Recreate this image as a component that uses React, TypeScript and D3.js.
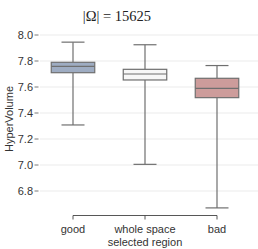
import React from 'react';
import * as d3 from 'd3';

// categories and box stats
const categories = ['good', 'whole space', 'bad'];
const whiskerHigh = [7.945, 7.925, 7.765];
const q3 = [7.79, 7.736, 7.667];
const medians = [7.758, 7.70, 7.59];
const q1 = [7.71, 7.654, 7.518];
const whiskerLow = [7.308, 7.005, 6.67];
const boxColors = ['#9eacc2', '#f7f7f7', '#cd9c9b'];
const yTicks = [6.8, 7.0, 7.2, 7.4, 7.6, 7.8, 8.0];

const width = 258;
const height = 249;

const App = () => {
  const x = d3.scalePoint().domain(categories).range([73, 217]);
  const y = d3.scaleLinear().domain([6.8, 8.0]).range([191, 35]);
  const boxW = 43.5;
  const capW = 23;
  const edge = '#6f6f6f';
  const font = 'Liberation Sans, Arial, sans-serif';

  return (
    <svg width={width} height={height} style={{ position: 'absolute', left: 0, top: 0 }}>
      <text x={117} y={21} textAnchor="middle" fontFamily="Liberation Serif, Times New Roman, serif" fontSize={14.5} fill="#222">
        |Ω| = 15625
      </text>

      {/* grid + y ticks */}
      {yTicks.map(t => (
        <g key={t}>
          <line x1={40} x2={258} y1={y(t)} y2={y(t)} stroke="#ebebeb" strokeWidth={1} />
          <line x1={34.5} x2={38.5} y1={y(t)} y2={y(t)} stroke="#555" strokeWidth={0.8} />
          <text x={33} y={y(t)} dy="0.35em" textAnchor="end" fontFamily={font} fontSize={11} fill="#333">
            {d3.format('.1f')(t)}
          </text>
        </g>
      ))}

      <text transform={`translate(13,${119}) rotate(-90)`} textAnchor="middle" fontFamily={font} fontSize={11} fill="#333">
        HyperVolume
      </text>

      {/* boxes */}
      {categories.map((c, i) => {
        const cx = x(c) as number;
        return (
          <g key={c}>
            <line x1={cx} x2={cx} y1={y(whiskerHigh[i])} y2={y(q3[i])} stroke={edge} strokeWidth={1.2} />
            <line x1={cx} x2={cx} y1={y(q1[i])} y2={y(whiskerLow[i])} stroke={edge} strokeWidth={1.2} />
            <line x1={cx - capW / 2} x2={cx + capW / 2} y1={y(whiskerHigh[i])} y2={y(whiskerHigh[i])} stroke={edge} strokeWidth={1.2} />
            <line x1={cx - capW / 2} x2={cx + capW / 2} y1={y(whiskerLow[i])} y2={y(whiskerLow[i])} stroke={edge} strokeWidth={1.2} />
            <rect x={cx - boxW / 2} y={y(q3[i])} width={boxW} height={y(q1[i]) - y(q3[i])} fill={boxColors[i]} stroke={edge} strokeWidth={1.2} />
            <line x1={cx - boxW / 2} x2={cx + boxW / 2} y1={y(medians[i])} y2={y(medians[i])} stroke={edge} strokeWidth={1.2} />
          </g>
        );
      })}

      {/* bottom axis, offset and trimmed */}
      <line x1={73} x2={217} y1={215.5} y2={215.5} stroke="#444" strokeWidth={0.9} />
      {categories.map(c => (
        <line key={c} x1={x(c)} x2={x(c)} y1={215.5} y2={219.5} stroke="#444" strokeWidth={0.9} />
      ))}
      {categories.map(c => (
        <text key={c} x={x(c)} y={232.5} textAnchor="middle" fontFamily={font} fontSize={11} fill="#333">
          {c}
        </text>
      ))}
      <text x={145} y={245.5} textAnchor="middle" fontFamily={font} fontSize={11} fill="#333">
        selected region
      </text>
    </svg>
  );
};

export default App;
